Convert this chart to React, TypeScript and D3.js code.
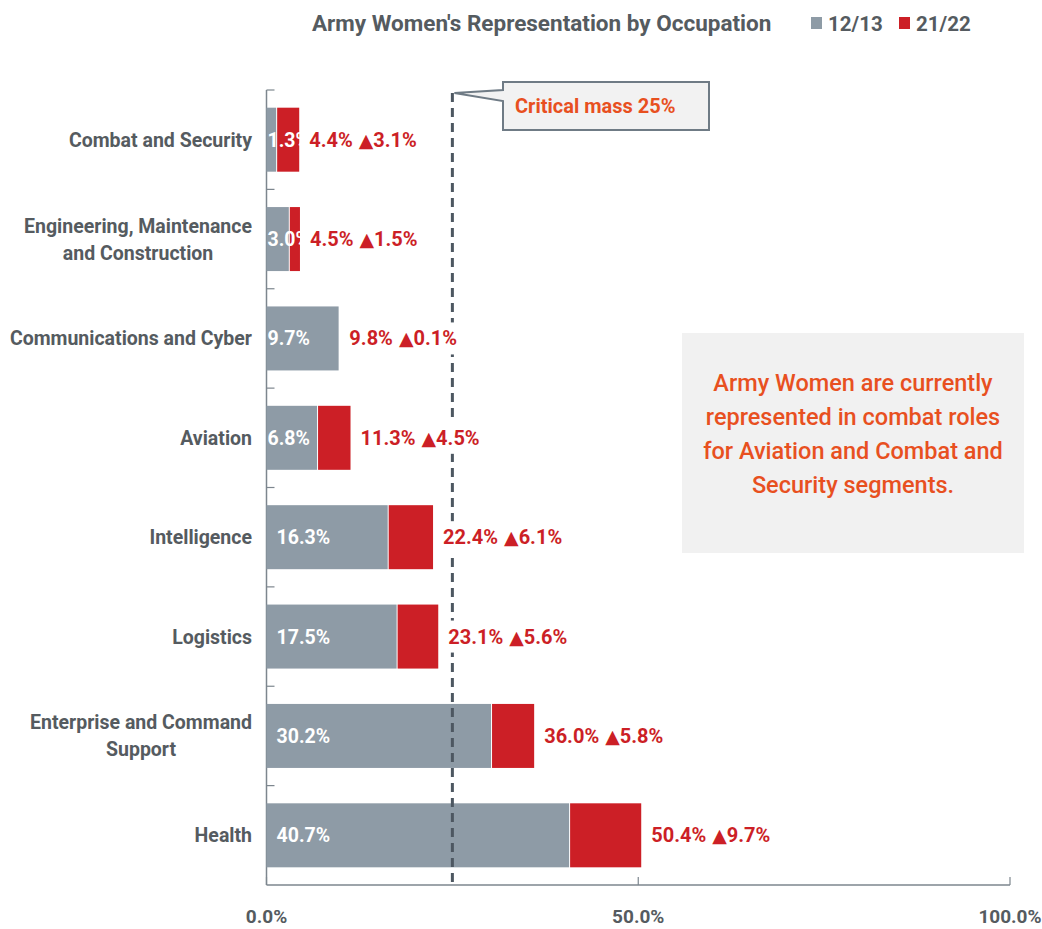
import React, { useEffect, useRef } from "react";
import * as d3 from "d3";

const categories = [
  "Combat and Security",
  "Engineering, Maintenance\nand Construction",
  "Communications and Cyber",
  "Aviation",
  "Intelligence",
  "Logistics",
  "Enterprise and Command\nSupport",
  "Health",
];
const values1213 = [1.3, 3.0, 9.7, 6.8, 16.3, 17.5, 30.2, 40.7];
const values2122 = [4.4, 4.5, 9.8, 11.3, 22.4, 23.1, 36.0, 50.4];
const changes = [3.1, 1.5, 0.1, 4.5, 6.1, 5.6, 5.8, 9.7];
const xTicks = [0, 50, 100];
const criticalMass = 25;
const seriesNames = ["12/13", "21/22"];
const title = "Army Women's Representation by Occupation";
const calloutText = "Critical mass 25%";
const noteLines = [
  "Army Women are currently",
  "represented in combat roles",
  "for Aviation and Combat and",
  "Security segments.",
];

const W = 1042;
const H = 929;
const FONT = "Roboto, 'DejaVu Sans', sans-serif";
const GREY = "#8e9ba6";
const RED = "#cc1f26";
const TEXT = "#555b60";
const ORANGE = "#e8501f";

export default function App() {
  const ref = useRef<SVGSVGElement>(null);

  useEffect(() => {
    document.body.style.margin = "0";
    const svg = d3.select(ref.current);
    svg.selectAll("*").remove();

    const x = d3.scaleLinear().domain([0, 100]).range([266.5, 1010]);
    const y = d3
      .scaleBand<string>()
      .domain(categories)
      .range([90, 885])
      .paddingInner(0.356)
      .paddingOuter(0.178);
    const bw = y.bandwidth();

    // Title + legend
    svg
      .append("text")
      .attr("x", 312)
      .attr("y", 31)
      .attr("font-family", FONT)
      .attr("font-weight", "bold")
      .attr("font-size", 22.5)
      .attr("fill", TEXT)
      .text(title);
    const legendX = [811, 899];
    const legendColors = [GREY, RED];
    seriesNames.forEach((s, i) => {
      svg
        .append("rect")
        .attr("x", legendX[i])
        .attr("y", 17)
        .attr("width", 11)
        .attr("height", 12)
        .attr("fill", legendColors[i]);
      svg
        .append("text")
        .attr("x", legendX[i] + 17)
        .attr("y", 31)
        .attr("font-family", FONT)
        .attr("font-weight", "bold")
        .attr("font-size", 20.5)
        .attr("fill", TEXT)
        .text(s);
    });

    // Note box
    svg
      .append("rect")
      .attr("x", 682)
      .attr("y", 333)
      .attr("width", 342)
      .attr("height", 220)
      .attr("fill", "#f1f1f1");
    noteLines.forEach((l, i) => {
      svg
        .append("text")
        .attr("x", 853)
        .attr("y", 391 + i * 34)
        .attr("text-anchor", "middle")
        .attr("font-family", FONT)
        .attr("font-weight", 500)
        .attr("font-size", 23.5)
        .attr("fill", ORANGE)
        .text(l);
    });

    // Axes
    const axisColor = "#7d868e";
    svg
      .append("line")
      .attr("x1", x(0))
      .attr("x2", x(0))
      .attr("y1", 90)
      .attr("y2", 885)
      .attr("stroke", axisColor)
      .attr("stroke-width", 1.5);
    svg
      .append("line")
      .attr("x1", x(0))
      .attr("x2", x(100))
      .attr("y1", 885)
      .attr("y2", 885)
      .attr("stroke", axisColor)
      .attr("stroke-width", 1.5);
    const step = y.step();
    d3.range(categories.length).forEach((i) => {
      const yy = 90 + i * step;
      svg
        .append("line")
        .attr("x1", x(0))
        .attr("x2", x(0) + 8)
        .attr("y1", yy)
        .attr("y2", yy)
        .attr("stroke", axisColor)
        .attr("stroke-width", 1.2);
    });
    xTicks.forEach((t) => {
      svg
        .append("line")
        .attr("x1", x(t))
        .attr("x2", x(t))
        .attr("y1", 877)
        .attr("y2", 885)
        .attr("stroke", axisColor)
        .attr("stroke-width", 1.2);
      svg
        .append("text")
        .attr("x", x(t))
        .attr("y", 923)
        .attr("text-anchor", "middle")
        .attr("font-family", FONT)
        .attr("font-weight", "bold")
        .attr("font-size", 19)
        .attr("fill", TEXT)
        .text(d3.format(".1f")(t) + "%");
    });

    // Category labels
    categories.forEach((c) => {
      const lines = c.split("\n");
      const cy = (y(c) as number) + bw / 2;
      const g = svg.append("g");
      const lh = 27;
      const texts = lines.map((l, j) =>
        g
          .append("text")
          .attr("y", cy + (j - (lines.length - 1) / 2) * lh + 7)
          .attr("font-family", FONT)
          .attr("font-weight", "bold")
          .attr("font-size", 19.5)
          .attr("fill", TEXT)
          .text(l)
      );
      const widths = texts.map((t) => (t.node() as SVGTextElement).getComputedTextLength());
      const maxW = Math.max(...widths);
      texts.forEach((t) => {
        t.attr("x", 252 - maxW / 2).attr("text-anchor", "middle");
      });
    });

    // Bars
    categories.forEach((c, i) => {
      const y0 = y(c) as number;
      svg
        .append("rect")
        .attr("x", x(0))
        .attr("y", y0)
        .attr("width", x(values1213[i]) - x(0))
        .attr("height", bw)
        .attr("fill", GREY);
      svg
        .append("rect")
        .attr("x", x(values1213[i]) + 1)
        .attr("y", y0)
        .attr("width", Math.max(0, x(values2122[i]) - x(values1213[i]) - 1))
        .attr("height", bw)
        .attr("fill", RED);
    });

    // Critical mass line
    svg
      .append("line")
      .attr("x1", x(criticalMass))
      .attr("x2", x(criticalMass))
      .attr("y1", 93)
      .attr("y2", 885)
      .attr("stroke", "#4d5761")
      .attr("stroke-width", 3)
      .attr("stroke-dasharray", "9,6");

    // Labels
    categories.forEach((c, i) => {
      const cy = (y(c) as number) + bw / 2;
      const s1 = values1213[i].toFixed(1) + "%";
      svg
        .append("text")
        .attr("x", x(0) + (values1213[i] < 10 ? 1 : 10))
        .attr("y", cy + 7)
        .attr("font-family", FONT)
        .attr("font-weight", "bold")
        .attr("font-size", 19.5)
        .attr("fill", "#ffffff")
        .text(s1);
      const lx = x(values2122[i]) + 10;
      const g = svg.append("g");
      const bg = g.append("rect").attr("fill", "#ffffff");
      const t = g
        .append("text")
        .attr("x", lx)
        .attr("y", cy + 7)
        .attr("font-family", FONT)
        .attr("font-weight", "bold")
        .attr("font-size", 20)
        .attr("fill", RED)
        .text(values2122[i].toFixed(1) + "% ");
      t.append("tspan")
        .attr("font-family", "'DejaVu Sans', sans-serif")
        .attr("font-size", 19)
        .attr("dx", 1)
        .text("\u25B2");
      t.append("tspan").text(changes[i].toFixed(1) + "%");
      const bb = (t.node() as SVGTextElement).getBBox();
      bg.attr("x", bb.x - 4)
        .attr("y", cy - 16)
        .attr("width", bb.width + 8)
        .attr("height", 32);
    });

    // Callout
    const cx = x(criticalMass);
    svg
      .append("path")
      .attr("d", `M503,82 H709 V130 H503 V101 L${cx + 2},93 L503,90 Z`)
      .attr("fill", "#f2f2f2")
      .attr("stroke", "#6f7b85")
      .attr("stroke-width", 2);
    svg
      .append("text")
      .attr("x", 515)
      .attr("y", 113)
      .attr("font-family", FONT)
      .attr("font-weight", "bold")
      .attr("font-size", 20)
      .attr("fill", ORANGE)
      .text(calloutText);
  }, []);

  return <svg ref={ref} width={W} height={H} style={{ display: "block", background: "#fff" }} />;
}
